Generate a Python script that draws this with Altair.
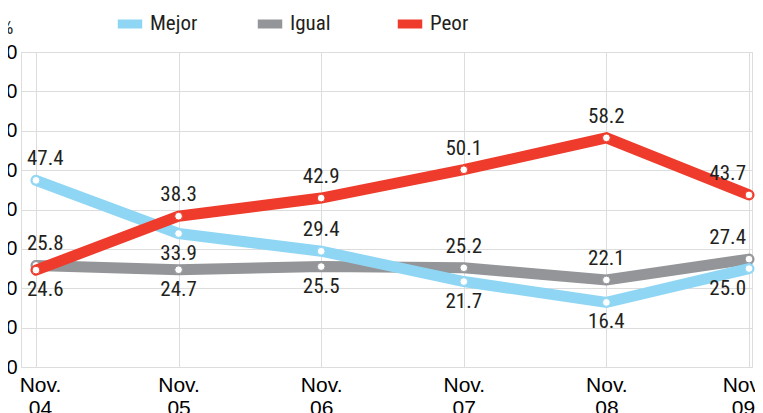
import altair as alt
import pandas as pd

# ---- data ----
anios = [2004, 2005, 2006, 2007, 2008, 2009]
series = ["Mejor", "Igual", "Peor"]
mejor = [47.4, 33.9, 29.4, 21.7, 16.4, 25.0]
igual = [25.8, 24.7, 25.5, 25.2, 22.1, 27.4]
peor = [24.6, 38.3, 42.9, 50.1, 58.2, 43.7]
lado_mejor = ["arriba", "abajo", "arriba", "abajo", "abajo", "abajo"]
lado_igual = ["arriba", "abajo", "abajo", "arriba", "arriba", "arriba"]
lado_peor = ["abajo", "arriba", "arriba", "arriba", "arriba", "arriba"]
colores = ["#8fd6f4", "#939598", "#ee3b2b"]
y_ticks = [0, 10, 20, 30, 40, 50, 60, 70, 80]

FONT = "Noto Sans Condensed, Roboto Condensed, Open Sans Condensed, DejaVu Sans Condensed, sans-serif"
TXT = "#231f20"

rows = []
for nombre, vals, lados in [("Mejor", mejor, lado_mejor),
                            ("Igual", igual, lado_igual),
                            ("Peor", peor, lado_peor)]:
    for a, v, l in zip(anios, vals, lados):
        rows.append({"anio": a, "serie": nombre, "valor": v, "lado": l})
df = pd.DataFrame(rows)

xscale = alt.Scale(domain=[2003.895, 2009.021], nice=False, zero=False)
yscale = alt.Scale(domain=[0, 80], nice=False)
cscale = alt.Scale(domain=series, range=colores)

base = alt.Chart(df).encode(
    x=alt.X("anio:Q", scale=xscale,
            axis=alt.Axis(values=anios, format="d", title=None,
                          labelExpr="['Nov.', substring(datum.label, 2)]",
                          labelOffset={"condition": [
                              {"test": "datum.value == 2004", "value": 4},
                              {"test": "datum.value == 2009", "value": -6}],
                              "value": 0},
                          grid=True, domain=False, ticks=False,
                          labelFontSize=21, labelLineHeight=23,
                          labelPadding=7, labelFlush=False)),
    y=alt.Y("valor:Q", scale=yscale,
            axis=alt.Axis(values=y_ticks, title="%", titleAngle=0,
                          titleX=-8, titleY=-19, titleAlign="right",
                          titleBaseline="alphabetic", titleFontSize=20,
                          titleFontWeight="normal", titleFont=FONT, titleColor=TXT,
                          grid=True, domain=False, ticks=False,
                          labelFontSize=20, labelPadding=4)),
)

layers = []
for s in ["Igual", "Mejor", "Peor"]:
    sub = base.transform_filter(alt.datum.serie == s)
    layers.append(sub.mark_line(strokeWidth=11, strokeCap="round").encode(
        color=alt.Color("serie:N", scale=cscale,
                        legend=alt.Legend(orient="none", legendX=92, legendY=-45,
                                          direction="horizontal", title=None,
                                          gridAlign="all",
                                          symbolType="stroke", symbolSize=600,
                                          symbolStrokeWidth=9, labelOffset=3,
                                          labelFontSize=21, labelFont=FONT,
                                          labelColor=TXT, columnPadding=41))))
    layers.append(sub.mark_point(filled=True, fill="white", size=60, strokeWidth=1,
                                 opacity=1).encode(
        stroke=alt.Stroke("serie:N", scale=cscale, legend=None)))

textos = base.transform_calculate(
    alinea="datum.anio == 2004 ? 'left' : (datum.anio == 2009 ? 'right' : 'center')")
for lado, baseline, dy in [("arriba", "alphabetic", -15), ("abajo", "top", 9)]:
    for alinea, dx in [("left", -9), ("center", 0), ("right", -3)]:
        layers.append(textos.transform_filter(
            (alt.datum.lado == lado) & (alt.datum.alinea == alinea)
        ).mark_text(align=alinea, baseline=baseline, dx=dx, dy=dy,
                    fontSize=21, font=FONT, color=TXT).encode(
            text=alt.Text("valor:Q", format=".1f")))

chart = alt.layer(*layers).properties(
    width=731, height=315,
    autosize=alt.AutoSizeParams(type="none"),
    padding={"left": 13, "top": 44, "right": 3, "bottom": 49},
).configure_view(stroke=None).configure_axis(
    gridColor="#dcdcdc", gridWidth=1.2, labelFont=FONT, labelColor=TXT,
).configure(background="white")

chart.save("out.html", embed_options={"renderer": "svg", "actions": False})
